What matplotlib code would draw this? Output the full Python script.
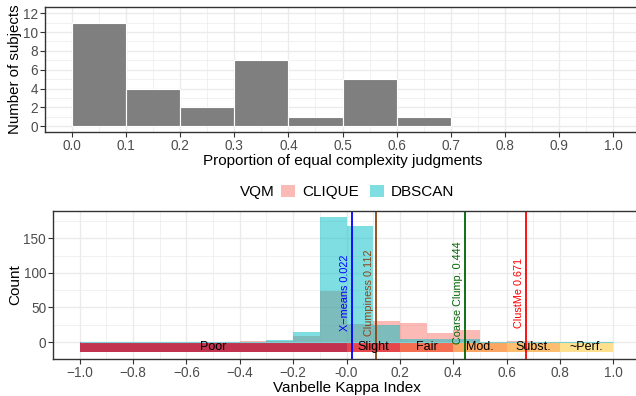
import numpy as np
import matplotlib
matplotlib.use("Agg")
import matplotlib.pyplot as plt
from matplotlib.patches import Patch

plt.rcParams['font.family'] = ['Liberation Sans', 'DejaVu Sans']

# top panel: proportion of equal complexity judgments per subject
prop_edges = [0.0, 0.1, 0.2, 0.3, 0.4, 0.5, 0.6]
prop_counts = [11, 4, 2, 7, 1, 5, 1]

# bottom panel: Vanbelle kappa histograms (bin left edges, width 0.1)
kappa_edges = [-1.0, -0.9, -0.8, -0.7, -0.6, -0.5, -0.4, -0.3, -0.2, -0.1,
               0.0, 0.1, 0.2, 0.3, 0.4, 0.5, 0.6, 0.7, 0.8, 0.9]
clique_counts = [0, 0, 0, 0, 0, 0, 2, 1, 9, 74, 26, 31, 28, 13, 18, 0, 2, 0, 0, 0]
dbscan_counts = [0, 0, 0, 0, 0, 0, 0, 3, 15, 181, 168, 24, 5, 4, 4, 0, 0, 0, 0, 0]

# agreement bands
band_lo = [-1.0, 0.0, 0.2, 0.4, 0.6, 0.8]
band_hi = [0.0, 0.2, 0.4, 0.6, 0.8, 1.0]
band_labels = ['Poor', 'Slight', 'Fair', 'Mod.', 'Subst.', '~Perf.']
band_colors = ['#C1334F', '#E5474B', '#F46E52', '#FBA662', '#FDBE70', '#FEE08E']

# reference measures
ref_names = ['X\u2212means', 'Clumpiness', 'Coarse Clump.', 'ClustMe']
ref_values = [0.022, 0.112, 0.444, 0.671]
ref_colors = ['#0000FF', '#8B4513', '#006400', '#FF0000']

W, H = 636, 396
fig = plt.figure(figsize=(W / 100, H / 100), dpi=100)

def place(l, t, r, b):
    return fig.add_axes([l / W, 1 - b / H, (r - l) / W, (b - t) / H])

tick_col = '#4D4D4D'
grid_col = '#EBEBEB'

def style(ax):
    ax.set_axisbelow(True)
    ax.grid(which='major', color=grid_col, lw=1.0)
    ax.grid(which='minor', color=grid_col, lw=0.5)
    for s in ax.spines.values():
        s.set_color('#333333')
        s.set_linewidth(1.0)
    ax.tick_params(which='major', length=3.5, width=0.8, color='#333333',
                   labelsize=9.8, labelcolor=tick_col, pad=1.5)
    ax.tick_params(which='minor', length=0)

# ---- top panel
ax1 = place(45, 7, 640, 132)
ax1.bar(prop_edges, prop_counts, width=0.1, align='edge', color='#7F7F7F',
        edgecolor='white', linewidth=0.8)
ax1.set_xlim(-0.05, 1.05)
ax1.set_ylim(-0.6, 12.65)
ax1.set_xticks(np.round(np.arange(0, 1.01, 0.1), 1))
ax1.set_xticks(np.arange(0.05, 1.0, 0.1), minor=True)
ax1.set_yticks(range(0, 13, 2))
ax1.set_yticks(range(1, 13, 2), minor=True)
ax1.set_xticklabels(['%.1f' % v for v in np.arange(0, 1.01, 0.1)])
style(ax1)
ax1.set_xlabel('Proportion of equal complexity judgments', fontsize=11, labelpad=1)
ax1.set_ylabel('Number of subjects', fontsize=10.8, va='center')
ax1.yaxis.set_label_coords((15 - 45) / 595, 0.5)

# ---- bottom panel
ax2 = place(53, 210.7, 640, 359)
for lo, hi, lab, col in zip(band_lo, band_hi, band_labels, band_colors):
    ax2.bar(lo, -15, width=hi - lo, align='edge', color=col, linewidth=0)
    ax2.text((lo + hi) / 2, -7.5, lab, ha='center', va='center', fontsize=9,
             color='black')
ax2.hlines(0, band_lo[0], band_hi[-1], color='#7FCFD1', lw=0.8)
ax2.bar(kappa_edges, clique_counts, width=0.1, align='edge',
        color='#F8766D', alpha=0.5, linewidth=0)
ax2.bar(kappa_edges, dbscan_counts, width=0.1, align='edge',
        color='#00BFC4', alpha=0.5, linewidth=0)
for name, v, c in zip(ref_names, ref_values, ref_colors):
    ax2.axvline(v, color=c, lw=1.3)
    ax2.text(v - 0.026, 71, '%s %.3f' % (name, v), rotation=90, ha='center',
             va='center', fontsize=7.8, color=c)
ax2.set_xlim(-1.1, 1.1)
ax2.set_ylim(-24.5, 190)
ax2.set_xticks(np.round(np.arange(-1, 1.01, 0.2), 1))
ax2.set_xticks(np.round(np.arange(-0.9, 1.0, 0.2), 1), minor=True)
ax2.set_xticklabels(['%.1f' % v if v >= 0 else '\u2212%.1f' % -v
                     for v in np.round(np.arange(-1, 1.01, 0.2), 1)])
ax2.set_yticks([0, 50, 100, 150])
ax2.set_yticks([25, 75, 125, 175], minor=True)
style(ax2)
ax2.set_xlabel('Vanbelle Kappa Index', fontsize=11, labelpad=1)
ax2.set_ylabel('Count', fontsize=11, va='center')
ax2.yaxis.set_label_coords((15 - 53) / 587, 0.5)

# legend
fig.text(240 / W, 1 - 192 / H, 'VQM', fontsize=11, va='center', ha='left')
handles = [Patch(facecolor='#F8766D', alpha=0.5, linewidth=0),
           Patch(facecolor='#00BFC4', alpha=0.5, linewidth=0)]
fig.legend(handles, ['CLIQUE', 'DBSCAN'], ncol=2, frameon=False,
           loc='center left', bbox_to_anchor=(281 / W, 1 - 192 / H),
           fontsize=11, handlelength=0.9, handleheight=0.9,
           handletextpad=0.5, columnspacing=0.7, borderpad=0, borderaxespad=0)

fig.savefig('out.png', dpi=100)
